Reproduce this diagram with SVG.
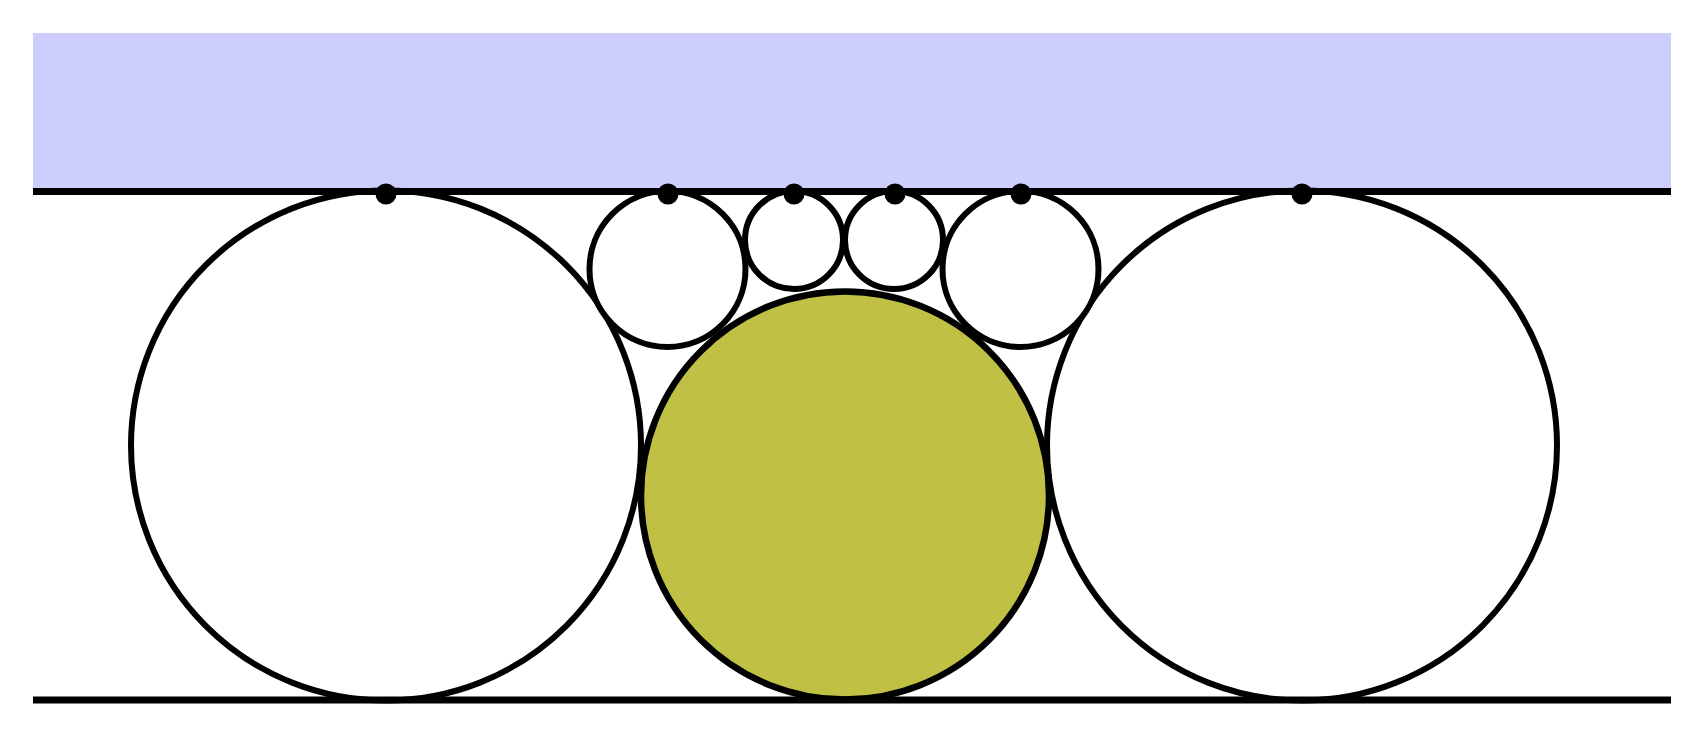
<svg xmlns="http://www.w3.org/2000/svg" width="1705" height="734" viewBox="0 0 1705 734">
  <style>
    .c { fill: #ffffff; stroke: #000000; stroke-width: 6; }
    .g { fill: #bfc044; stroke: #000000; stroke-width: 6.5; }
    .ln { stroke: #000000; stroke-width: 7; fill: none; }
    .dot { fill: #000000; }
  </style>
  <rect width="1705" height="734" fill="#ffffff"/>
  <rect id="band" x="33" y="33" width="1638" height="158" fill="#cdcefc"/>
  <g id="circles">
    <g id="big-left"><circle class="c" cx="386" cy="445.5" r="255"/></g>
    <g id="big-right"><circle class="c" cx="1302" cy="445.5" r="255"/></g>
    <g id="small-1"><circle class="c" cx="667.5" cy="269" r="78"/></g>
    <g id="small-2"><circle class="c" cx="794" cy="240" r="49"/></g>
    <g id="small-3"><circle class="c" cx="894" cy="240" r="49"/></g>
    <g id="small-4"><circle class="c" cx="1020.5" cy="269" r="78"/></g>
    <g id="green"><circle class="g" cx="845" cy="495.5" r="204"/></g>
  </g>
  <g id="lines">
    <line class="ln" x1="33" y1="191.5" x2="1671" y2="191.5"/>
    <line class="ln" x1="33" y1="700" x2="1671" y2="700"/>
  </g>
  <g id="dots">
    <circle class="dot" cx="386" cy="194" r="10.5"/>
    <circle class="dot" cx="668" cy="194" r="10.5"/>
    <circle class="dot" cx="794" cy="194" r="10.5"/>
    <circle class="dot" cx="895" cy="194" r="10.5"/>
    <circle class="dot" cx="1021" cy="194" r="10.5"/>
    <circle class="dot" cx="1302" cy="194" r="10.5"/>
  </g>
</svg>
